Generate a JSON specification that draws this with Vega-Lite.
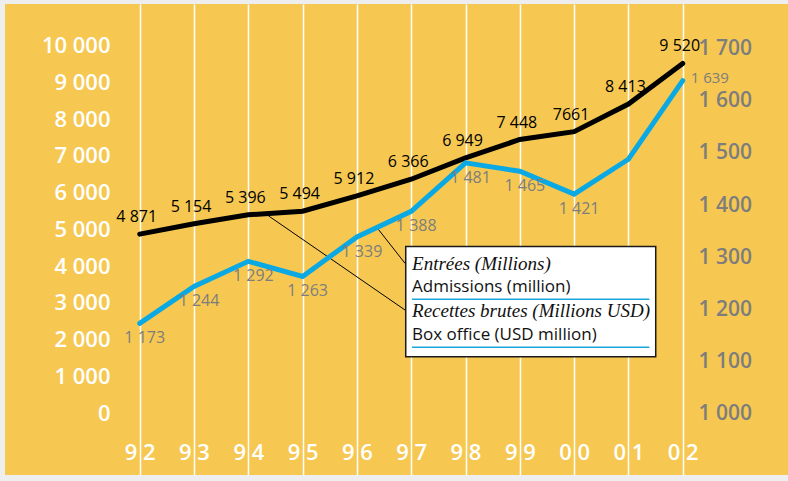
{
  "$schema": "https://vega.github.io/schema/vega-lite/v6.json",
  "width": 783,
  "height": 471,
  "autosize": {"type": "none"},
  "padding": {"left": 5, "top": 4, "right": 0, "bottom": 6},
  "background": "#eeeeee",
  "config": {
    "view": {"fill": "#F6C852", "stroke": null},
    "font": "Open Sans"
  },
  "datasets": {
    "main": [
      {"year": 1992, "admissions": 4871, "admLabel": "4 871", "boxoffice": 1173, "boxLabel": "1 173"},
      {"year": 1993, "admissions": 5154, "admLabel": "5 154", "boxoffice": 1244, "boxLabel": "1 244"},
      {"year": 1994, "admissions": 5396, "admLabel": "5 396", "boxoffice": 1292, "boxLabel": "1 292"},
      {"year": 1995, "admissions": 5494, "admLabel": "5 494", "boxoffice": 1263, "boxLabel": "1 263"},
      {"year": 1996, "admissions": 5912, "admLabel": "5 912", "boxoffice": 1339, "boxLabel": "1 339"},
      {"year": 1997, "admissions": 6366, "admLabel": "6 366", "boxoffice": 1388, "boxLabel": "1 388"},
      {"year": 1998, "admissions": 6949, "admLabel": "6 949", "boxoffice": 1481, "boxLabel": "1 481"},
      {"year": 1999, "admissions": 7448, "admLabel": "7 448", "boxoffice": 1465, "boxLabel": "1 465"},
      {"year": 2000, "admissions": 7661, "admLabel": "7661", "boxoffice": 1421, "boxLabel": "1 421"},
      {"year": 2001, "admissions": 8413, "admLabel": "8 413", "boxoffice": 1488, "boxLabel": ""},
      {"year": 2002, "admissions": 9520, "admLabel": "9 520", "boxoffice": 1639, "boxLabel": "1 639"}
    ],
    "one": [{}]
  },
  "layer": [
    {
      "data": {"name": "main"},
      "mark": {"type": "line", "color": "#000000", "strokeWidth": 5, "strokeCap": "round"},
      "encoding": {
        "x": {
          "field": "year", "type": "quantitative",
          "scale": {"domain": [1989.519, 2003.939], "nice": false, "zero": false},
          "title": null,
          "axis": {
            "orient": "bottom", "offset": -23, "values": [1992, 1993, 1994, 1995, 1996, 1997, 1998, 1999, 2000, 2001, 2002],
            "labelExpr": "slice(toString(datum.value), 2, 3) + ' ' + slice(toString(datum.value), 3, 4)",
            "grid": true, "gridColor": "#ffffff", "gridWidth": 1.5, "gridOpacity": 1,
            "domain": false, "ticks": false, "labelPadding": 0, "labelBaseline": "middle",
            "labelColor": "#ffffff", "labelFontSize": 22, "labelFontWeight": 600, "labelFont": "Open Sans",
            "labelFlush": false, "labelOverlap": false
          }
        },
        "y": {
          "field": "admissions", "type": "quantitative",
          "scale": {"domain": [-1688, 11138], "nice": false, "zero": false},
          "title": null,
          "axis": {
            "orient": "left", "offset": -105, "values": [0, 1000, 2000, 3000, 4000, 5000, 6000, 7000, 8000, 9000, 10000],
            "labelExpr": "replace(format(datum.value, ',d'), ',', ' ')",
            "grid": false, "domain": false, "ticks": false, "labelPadding": 0,
            "labelColor": "#ffffff", "labelFontSize": 22, "labelFontWeight": 600, "labelFont": "Open Sans",
            "labelBaseline": "middle", "labelFlush": false, "labelOverlap": false
          }
        }
      }
    },
    {
      "data": {"name": "main"},
      "mark": {"type": "text", "color": "#000000", "fontSize": 16, "font": "Open Sans", "dy": -17, "dx": -3, "baseline": "middle"},
      "encoding": {
        "x": {"field": "year", "type": "quantitative", "scale": {"domain": [1989.519, 2003.939], "nice": false, "zero": false}, "title": null},
        "y": {"field": "admissions", "type": "quantitative", "scale": {"domain": [-1688, 11138], "nice": false, "zero": false}, "axis": null},
        "text": {"field": "admLabel"}
      }
    },
    {
      "data": {"name": "one"},
      "mark": {"type": "rect", "fill": "#ffffff", "stroke": "#1a1a1a", "strokeWidth": 1.5},
      "encoding": {
        "x": {"datum": 1996.899, "type": "quantitative", "scale": {"domain": [1989.519, 2003.939], "nice": false, "zero": false}, "title": null},
        "x2": {"datum": 2001.503},
        "y": {"datum": 4534, "type": "quantitative", "scale": {"domain": [-1688, 11138], "nice": false, "zero": false}, "axis": null},
        "y2": {"datum": 1533}
      }
    },
    {
      "data": {"name": "one"},
      "mark": {"type": "rule", "color": "#1BA3DC", "strokeWidth": 1.5},
      "encoding": {
        "x": {"datum": 1997.015, "type": "quantitative", "scale": {"domain": [1989.519, 2003.939], "nice": false, "zero": false}, "title": null},
        "x2": {"datum": 2001.385},
        "y": {"datum": 3096, "type": "quantitative", "scale": {"domain": [-1688, 11138], "nice": false, "zero": false}, "axis": null}
      }
    },
    {
      "data": {"name": "one"},
      "mark": {"type": "rule", "color": "#1BA3DC", "strokeWidth": 1.5},
      "encoding": {
        "x": {"datum": 1997.015, "type": "quantitative", "scale": {"domain": [1989.519, 2003.939], "nice": false, "zero": false}, "title": null},
        "x2": {"datum": 2001.385},
        "y": {"datum": 1789, "type": "quantitative", "scale": {"domain": [-1688, 11138], "nice": false, "zero": false}, "axis": null}
      }
    },
    {
      "data": {"name": "one"},
      "mark": {"type": "text", "text": "Entrées (Millions)", "font": "Liberation Serif", "fontStyle": "italic", "fontSize": 19, "color": "#111111", "align": "left", "baseline": "middle"},
      "encoding": {
        "x": {"datum": 1997.015, "type": "quantitative", "scale": {"domain": [1989.519, 2003.939], "nice": false, "zero": false}, "title": null},
        "y": {"datum": 4058, "type": "quantitative", "scale": {"domain": [-1688, 11138], "nice": false, "zero": false}, "axis": null}
      }
    },
    {
      "data": {"name": "one"},
      "mark": {"type": "text", "text": "Admissions (million)", "font": "Open Sans", "fontSize": 17, "color": "#111111", "align": "left", "baseline": "middle"},
      "encoding": {
        "x": {"datum": 1997.015, "type": "quantitative", "scale": {"domain": [1989.519, 2003.939], "nice": false, "zero": false}, "title": null},
        "y": {"datum": 3418, "type": "quantitative", "scale": {"domain": [-1688, 11138], "nice": false, "zero": false}, "axis": null}
      }
    },
    {
      "data": {"name": "one"},
      "mark": {"type": "text", "text": "Recettes brutes (Millions USD)", "font": "Liberation Serif", "fontStyle": "italic", "fontSize": 19, "color": "#111111", "align": "left", "baseline": "middle"},
      "encoding": {
        "x": {"datum": 1997.015, "type": "quantitative", "scale": {"domain": [1989.519, 2003.939], "nice": false, "zero": false}, "title": null},
        "y": {"datum": 2791, "type": "quantitative", "scale": {"domain": [-1688, 11138], "nice": false, "zero": false}, "axis": null}
      }
    },
    {
      "data": {"name": "one"},
      "mark": {"type": "text", "text": "Box office (USD million)", "font": "Open Sans", "fontSize": 17, "color": "#111111", "align": "left", "baseline": "middle"},
      "encoding": {
        "x": {"datum": 1997.015, "type": "quantitative", "scale": {"domain": [1989.519, 2003.939], "nice": false, "zero": false}, "title": null},
        "y": {"datum": 2124, "type": "quantitative", "scale": {"domain": [-1688, 11138], "nice": false, "zero": false}, "axis": null}
      }
    },
    {
      "data": {"name": "one"},
      "mark": {"type": "rule", "color": "#000000", "strokeWidth": 1},
      "encoding": {
        "x": {"datum": 1994.368, "type": "quantitative", "scale": {"domain": [1989.519, 2003.939], "nice": false, "zero": false}, "title": null},
        "x2": {"datum": 1996.886},
        "y": {"datum": 5373, "type": "quantitative", "scale": {"domain": [-1688, 11138], "nice": false, "zero": false}, "axis": null},
        "y2": {"datum": 2805}
      }
    },
    {
      "data": {"name": "one"},
      "mark": {"type": "rule", "color": "#000000", "strokeWidth": 1},
      "encoding": {
        "x": {"datum": 1996.394, "type": "quantitative", "scale": {"domain": [1989.519, 2003.939], "nice": false, "zero": false}, "title": null},
        "x2": {"datum": 1996.886},
        "y": {"datum": 5003, "type": "quantitative", "scale": {"domain": [-1688, 11138], "nice": false, "zero": false}, "axis": null},
        "y2": {"datum": 4077}
      }
    },
    {
      "data": {"name": "main"},
      "mark": {"type": "line", "color": "#0BA9E3", "strokeWidth": 5, "strokeCap": "round"},
      "encoding": {
        "x": {"field": "year", "type": "quantitative", "scale": {"domain": [1989.519, 2003.939], "nice": false, "zero": false}, "title": null},
        "y": {
          "field": "boxoffice", "type": "quantitative",
          "scale": {"domain": [881.9, 1786], "nice": false, "zero": false},
          "title": null,
          "axis": {
            "orient": "right", "offset": -90, "values": [1000, 1100, 1200, 1300, 1400, 1500, 1600, 1700],
            "labelExpr": "replace(format(datum.value, ',d'), ',', ' ')",
            "grid": false, "domain": false, "ticks": false, "labelPadding": 0,
            "labelColor": "#7d7d7d", "labelFontSize": 21, "labelFontWeight": 600, "labelFont": "Open Sans",
            "labelBaseline": "middle", "labelFlush": false, "labelOverlap": false
          }
        }
      }
    },
    {
      "data": {"name": "main"},
      "transform": [{"filter": "datum.year < 2001"}],
      "mark": {"type": "text", "color": "#7d7d7d", "fontSize": 16, "font": "Open Sans", "dy": 15, "dx": 5, "baseline": "middle"},
      "encoding": {
        "x": {"field": "year", "type": "quantitative", "scale": {"domain": [1989.519, 2003.939], "nice": false, "zero": false}, "title": null},
        "y": {"field": "boxoffice", "type": "quantitative", "scale": {"domain": [881.9, 1786], "nice": false, "zero": false}, "axis": null},
        "text": {"field": "boxLabel"}
      }
    },
    {
      "data": {"name": "main"},
      "transform": [{"filter": "datum.year == 2002"}],
      "mark": {"type": "text", "color": "#7d7d7d", "fontSize": 15, "font": "Open Sans", "dy": -3, "dx": 8, "align": "left", "baseline": "middle"},
      "encoding": {
        "x": {"field": "year", "type": "quantitative", "scale": {"domain": [1989.519, 2003.939], "nice": false, "zero": false}, "title": null},
        "y": {"field": "boxoffice", "type": "quantitative", "scale": {"domain": [881.9, 1786], "nice": false, "zero": false}, "axis": null},
        "text": {"field": "boxLabel"}
      }
    }
  ],
  "resolve": {"scale": {"y": "independent"}, "axis": {"y": "independent"}}
}
